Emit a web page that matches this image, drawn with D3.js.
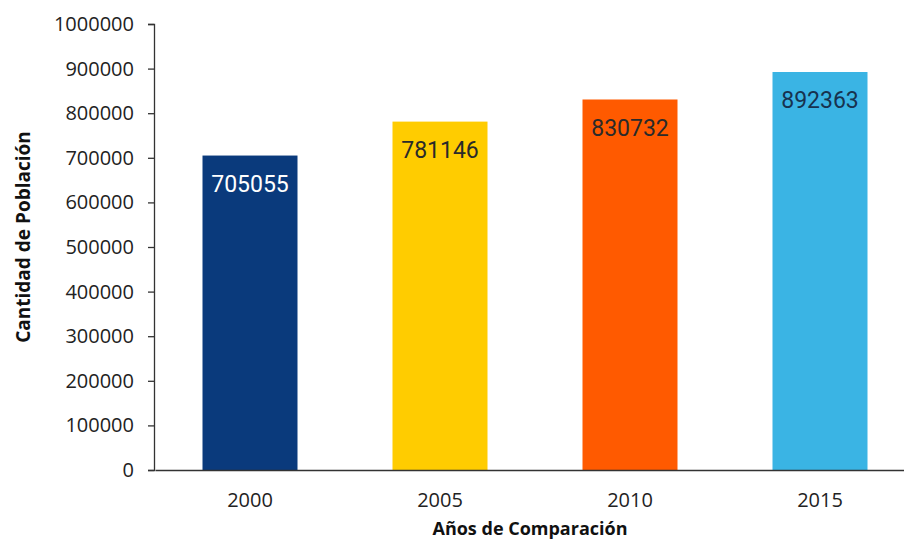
<!DOCTYPE html>
<html>
<head>
<meta charset="utf-8">
<script src="https://cdn.jsdelivr.net/npm/d3@7"></script>
<style>
  body { margin: 0; background: #fff; }
  .tick text { font-family: "Open Sans", sans-serif; fill: #222; }
  .axis-title { font-family: "Open Sans", sans-serif; font-weight: bold; fill: #111; }
</style>
</head>
<body>
<div id="chart"></div>
<script>
// Data
var years = ["2000", "2005", "2010", "2015"];
var population = [705055, 781146, 830732, 892363];
var barColors = ["#0a3a7c", "#ffcc00", "#ff5a00", "#3ab4e4"];
var labelColors = ["#ffffff", "#2a2a2a", "#2a2a2a", "#17324f"];
var yTicks = [0, 100000, 200000, 300000, 400000, 500000, 600000, 700000, 800000, 900000, 1000000];

var svgWidth = 904;
var svgHeight = 542;

var svg = d3.select("#chart")
  .append("svg")
  .attr("width", svgWidth)
  .attr("height", svgHeight);

// Scales
var x = d3.scaleBand()
  .domain(years)
  .range([155, 915])
  .paddingInner(0.5)
  .paddingOuter(0.25);

var y = d3.scaleLinear()
  .domain([0, 1000000])
  .range([470, 24]);

// Y axis
var yAxis = svg.append("g")
  .attr("transform", "translate(154,0)")
  .call(d3.axisLeft(y).tickValues(yTicks).tickFormat(d3.format("d")).tickSize(6).tickPadding(14));

yAxis.selectAll("text").style("font-size", "20px");
yAxis.selectAll("path, line").attr("stroke", "#333").attr("stroke-width", 1.3);

// Bars
svg.selectAll(".bar")
  .data(population)
  .enter()
  .append("rect")
  .attr("class", "bar")
  .attr("x", (d, i) => x(years[i]))
  .attr("y", d => y(d))
  .attr("width", x.bandwidth())
  .attr("height", d => y(0) - y(d))
  .attr("fill", (d, i) => barColors[i]);

// Value labels inside bars
svg.selectAll(".val")
  .data(population)
  .enter()
  .append("text")
  .attr("class", "val")
  .attr("x", (d, i) => x(years[i]) + x.bandwidth() / 2)
  .attr("y", d => y(d) + 28)
  .attr("dy", "0.35em")
  .attr("text-anchor", "middle")
  .style("font-family", "Roboto, sans-serif")
  .style("font-size", "23px")
  .attr("fill", (d, i) => labelColors[i])
  .text(d => d);

// X axis
var xAxis = svg.append("g")
  .attr("transform", "translate(0,470)")
  .call(d3.axisBottom(x).tickSize(0).tickPadding(23).tickSizeOuter(0));

xAxis.selectAll("text").style("font-size", "20px");
xAxis.select(".domain").attr("stroke", "#333").attr("stroke-width", 1.5);

// Axis titles
svg.append("text")
  .attr("class", "axis-title")
  .attr("transform", "translate(30,237) rotate(-90)")
  .attr("text-anchor", "middle")
  .style("font-size", "19px")
  .text("Cantidad de Población");

svg.append("text")
  .attr("class", "axis-title")
  .attr("x", 530)
  .attr("y", 535)
  .attr("text-anchor", "middle")
  .style("font-size", "18px")
  .text("Años de Comparación");
</script>
</body>
</html>
